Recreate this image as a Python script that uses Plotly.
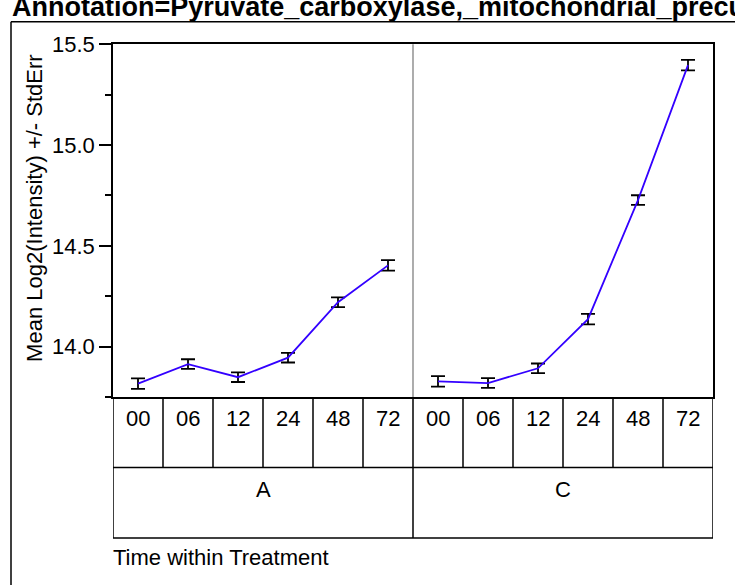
import plotly.graph_objects as go

W, H = 735, 585

times = ["00", "06", "12", "24", "48", "72"]
treatments = ["A", "C"]
mean_A = [13.816, 13.913, 13.848, 13.945, 14.220, 14.403]
se_A = [0.026, 0.024, 0.024, 0.024, 0.024, 0.026]
mean_C = [13.827, 13.819, 13.892, 14.136, 14.727, 15.397]
se_C = [0.026, 0.024, 0.024, 0.026, 0.024, 0.026]
y_ticks = [14.0, 14.5, 15.0, 15.5]
y_minor = [13.75, 14.25, 14.75, 15.25]
title_text = "Annotation=Pyruvate_carboxylase,_mitochondrial_precursor"
y_title = "Mean Log2(Intensity) +/- StdErr"
x_title = "Time within Treatment"

FONT = "Liberation Sans, Arial, sans-serif"
LINE = "rgb(51,0,255)"
FS = 22


def px(x):
    return x / W


def py(y):
    return 1 - y / H


n = len(times)
fig = go.Figure()
for k, (means, ses) in enumerate([(mean_A, se_A), (mean_C, se_C)]):
    xs = [k * n + i + 0.5 for i in range(n)]
    fig.add_trace(go.Scatter(
        x=xs, y=means, mode="lines",
        line=dict(color=LINE, width=1.8),
        error_y=dict(type="data", array=ses, visible=True,
                     color="black", thickness=1.8, width=7),
        showlegend=False, hoverinfo="skip"))

shapes = []
# outer frame (top and left only visible)
shapes.append(dict(type="line", xref="paper", yref="paper",
                   x0=px(11), x1=px(W + 5), y0=py(10), y1=py(10),
                   line=dict(color="black", width=1.5)))
shapes.append(dict(type="line", xref="paper", yref="paper",
                   x0=px(11), x1=px(11), y0=py(10), y1=py(H + 5),
                   line=dict(color="black", width=1.5)))
# gray divider between treatments inside plot
shapes.append(dict(type="line", xref="x", yref="paper",
                   x0=n, x1=n, y0=py(393), y1=py(33),
                   line=dict(color="gray", width=1.3)))
# table rows
for yy in [465, 537]:
    shapes.append(dict(type="line", xref="x", yref="paper",
                       x0=0, x1=2 * n, y0=py(yy), y1=py(yy),
                       line=dict(color="black", width=1.5)))
for i in range(2 * n + 1):
    shapes.append(dict(type="line", xref="x", yref="paper",
                       x0=i, x1=i, y0=py(393), y1=py(465),
                       line=dict(color="black", width=1.5)))
for i in range(0, 2 * n + 1, n):
    shapes.append(dict(type="line", xref="x", yref="paper",
                       x0=i, x1=i, y0=py(465), y1=py(537),
                       line=dict(color="black", width=1.5)))

annotations = []
for k in range(2):
    for i, t in enumerate(times):
        annotations.append(dict(text=t, xref="x", yref="paper",
                                x=k * n + i + 0.5, y=py(415),
                                showarrow=False, xanchor="center", yanchor="middle",
                                font=dict(family=FONT, size=FS, color="black")))
    annotations.append(dict(text=treatments[k], xref="x", yref="paper",
                            x=k * n + n / 2, y=py(488),
                            showarrow=False, xanchor="center", yanchor="middle",
                            font=dict(family=FONT, size=FS, color="black")))
annotations.append(dict(text=x_title, xref="paper", yref="paper",
                        x=px(111), y=py(557), showarrow=False,
                        xanchor="left", yanchor="middle",
                        font=dict(family=FONT, size=FS, color="black")))
annotations.append(dict(text=y_title, xref="paper", yref="paper",
                        x=px(35), y=py(200), showarrow=False, textangle=-90,
                        xanchor="center", yanchor="middle",
                        font=dict(family=FONT, size=FS, color="black")))
annotations.append(dict(text="<b>" + title_text + "</b>", xref="paper", yref="paper",
                        x=px(10), y=py(12), showarrow=False,
                        xanchor="left", yanchor="bottom",
                        font=dict(family=FONT, size=27, color="black")))

fig.update_layout(
    width=W, height=H,
    margin=dict(l=0, r=0, t=0, b=0),
    paper_bgcolor="white", plot_bgcolor="white",
    shapes=shapes, annotations=annotations,
    xaxis=dict(domain=[px(113), px(713)], range=[0, 2 * n],
               showticklabels=False, ticks="", showgrid=False, zeroline=False,
               showline=True, linecolor="black", linewidth=1.5, mirror=True),
    yaxis=dict(domain=[py(393), py(33)], range=[13.75, 15.5],
               tickvals=y_ticks, ticktext=[f"{v:.1f}" for v in y_ticks],
               ticks="outside", ticklen=12, tickwidth=1.5, tickcolor="black",
               minor=dict(tickvals=y_minor, ticks="outside",
                          ticklen=6, tickwidth=1.5, tickcolor="black"),
               tickfont=dict(family=FONT, size=FS, color="black"),
               showgrid=False, zeroline=False,
               showline=True, linecolor="black", linewidth=1.5, mirror=True),
)

fig.write_html("out.html", config={"displayModeBar": False},
               post_script="document.body.style.margin='0px';document.body.style.overflow='hidden';")
